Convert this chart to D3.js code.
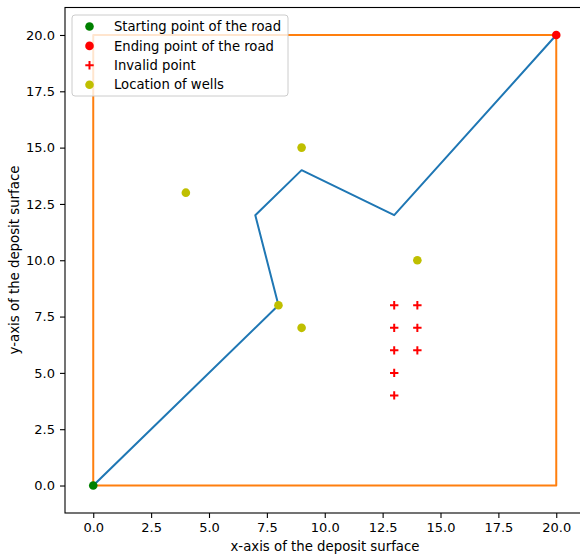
<!DOCTYPE html>
<html>
<head>
<meta charset="utf-8">
<script src="https://cdn.jsdelivr.net/npm/d3@7"></script>
<style>
  html, body { margin: 0; padding: 0; background: #fff; }
  svg { display: block; font-family: "DejaVu Sans", sans-serif; }
</style>
</head>
<body>
<svg id="chart" width="580" height="556"></svg>
<script>
// Road route across the deposit surface
const roadX = [0, 8, 7, 9, 13, 20];
const roadY = [0, 8, 12, 14, 12, 20];

// Boundary of the deposit surface
const boundX = [0, 20, 20, 0, 0];
const boundY = [0, 0, 20, 20, 0];

// Start and end of the road
const startPoint = [0, 0];
const endPoint = [20, 20];

// Points the road may not cross
const invalidX = [13, 14, 13, 14, 13, 14, 13, 13];
const invalidY = [8, 8, 7, 7, 6, 6, 5, 4];

// Wells
const wellX = [4, 9, 14, 8, 9];
const wellY = [13, 15, 10, 8, 7];

const tickValues = [0, 2.5, 5, 7.5, 10, 12.5, 15, 17.5, 20];
const legendLabels = ["Starting point of the road", "Ending point of the road", "Invalid point", "Location of wells"];

const svg = d3.select("#chart");
const domain = [-1.22, 21.22];
const x = d3.scaleLinear().domain(domain).range([65, 584.5]);
const y = d3.scaleLinear().domain(domain).range([513, 7.5]);

const fmt = d3.format(".1f");

// Plot area clip
svg.append("defs").append("clipPath").attr("id", "clip")
  .append("rect").attr("x", 65).attr("y", 7.5).attr("width", 519.5).attr("height", 505.5);

const plot = svg.append("g").attr("clip-path", "url(#clip)");

const line = d3.line().x(d => x(d[0])).y(d => y(d[1]));

plot.append("path")
  .datum(d3.zip(roadX, roadY))
  .attr("d", line)
  .attr("fill", "none")
  .attr("stroke", "#1f77b4")
  .attr("stroke-width", 2)
  .attr("stroke-linejoin", "round")
  .attr("stroke-linecap", "square");

plot.append("path")
  .datum(d3.zip(boundX, boundY))
  .attr("d", line)
  .attr("fill", "none")
  .attr("stroke", "#ff7f0e")
  .attr("stroke-width", 2)
  .attr("stroke-linejoin", "round")
  .attr("stroke-linecap", "square");

const R = 4.3;

plot.append("circle")
  .attr("cx", x(startPoint[0])).attr("cy", y(startPoint[1]))
  .attr("r", R).attr("fill", "#008000");

plot.append("circle")
  .attr("cx", x(endPoint[0])).attr("cy", y(endPoint[1]))
  .attr("r", R).attr("fill", "#ff0000");

function plus(g, cx, cy, s) {
  g.append("path")
    .attr("d", `M${cx - s},${cy}H${cx + s}M${cx},${cy - s}V${cy + s}`)
    .attr("stroke", "#ff0000")
    .attr("stroke-width", 2)
    .attr("fill", "none");
}

d3.zip(invalidX, invalidY).forEach(([a, b]) => plus(plot, x(a), y(b), 4.2));

plot.selectAll("circle.well")
  .data(d3.zip(wellX, wellY))
  .join("circle")
  .attr("class", "well")
  .attr("cx", d => x(d[0])).attr("cy", d => y(d[1]))
  .attr("r", R).attr("fill", "#bfbf00");

// Axes
const xAxis = d3.axisBottom(x).tickValues(tickValues).tickFormat(fmt).tickSize(5).tickPadding(5);
const yAxis = d3.axisLeft(y).tickValues(tickValues).tickFormat(fmt).tickSize(5).tickPadding(5);

const gx = svg.append("g").attr("transform", "translate(0,513)").call(xAxis);
const gy = svg.append("g").attr("transform", "translate(65,0)").call(yAxis);

[gx, gy].forEach(g => {
  g.select(".domain").remove();
  g.selectAll(".tick line").attr("stroke", "#000").attr("stroke-width", 1.1);
  g.selectAll(".tick text").attr("fill", "#000").attr("font-size", 13)
    .attr("font-family", "DejaVu Sans, sans-serif");
});

// Spines
svg.append("rect")
  .attr("x", 65).attr("y", 7.5).attr("width", 519.5).attr("height", 505.5)
  .attr("fill", "none").attr("stroke", "#000").attr("stroke-width", 1.1);

// Axis titles
svg.append("text")
  .attr("x", 325).attr("y", 551)
  .attr("text-anchor", "middle")
  .attr("font-size", 13.3)
  .text("x-axis of the deposit surface");

svg.append("text")
  .attr("transform", "translate(19,260) rotate(-90)")
  .attr("text-anchor", "middle")
  .attr("font-size", 13.3)
  .text("y-axis of the deposit surface");

// Legend
const legend = svg.append("g");
legend.append("rect")
  .attr("x", 72).attr("y", 15).attr("width", 216).attr("height", 81)
  .attr("rx", 3).attr("ry", 3)
  .attr("fill", "#fff").attr("fill-opacity", 0.8)
  .attr("stroke", "#cccccc").attr("stroke-width", 1);

const rowY = i => 26.5 + i * 19.4;
const mx = 89.5;

legend.append("circle").attr("cx", mx).attr("cy", rowY(0)).attr("r", R).attr("fill", "#008000");
legend.append("circle").attr("cx", mx).attr("cy", rowY(1)).attr("r", R).attr("fill", "#ff0000");
plus(legend, mx, rowY(2), 4.2);
legend.append("circle").attr("cx", mx).attr("cy", rowY(3)).attr("r", R).attr("fill", "#bfbf00");

legend.selectAll("text.lbl")
  .data(legendLabels)
  .join("text")
  .attr("class", "lbl")
  .attr("x", 114)
  .attr("y", (d, i) => rowY(i))
  .attr("dy", "0.35em")
  .attr("font-size", 13.2)
  .attr("fill", "#000")
  .text(d => d);
</script>
</body>
</html>
